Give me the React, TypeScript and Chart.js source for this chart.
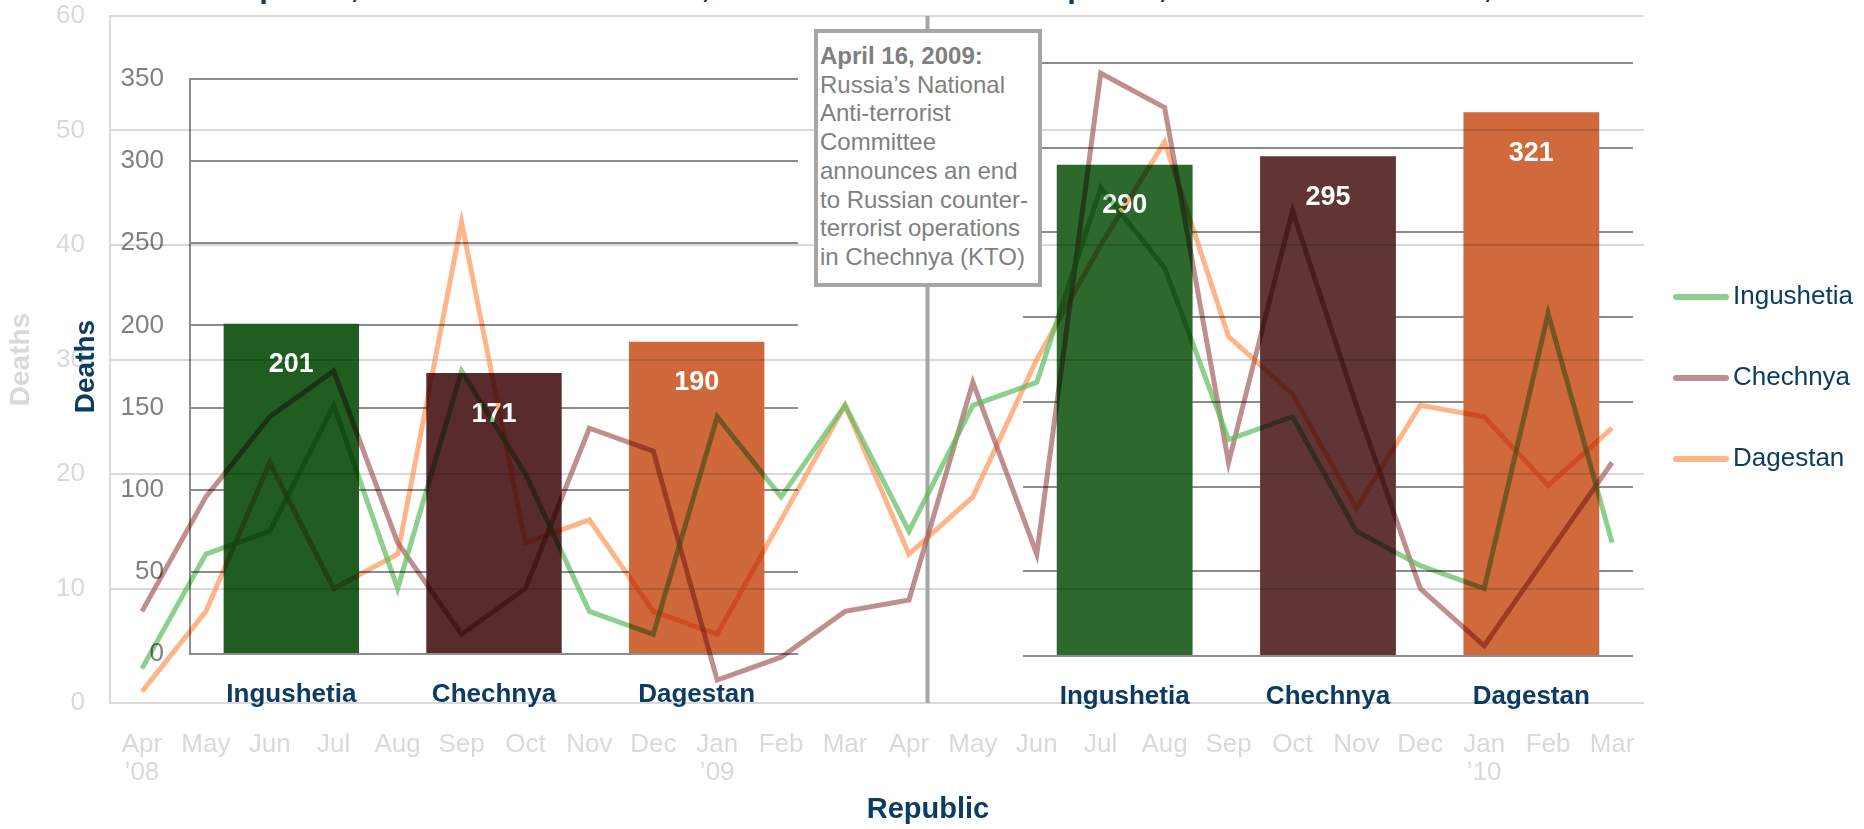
import React, { useEffect, useRef } from "react";
import { Chart, registerables } from "chart.js";

Chart.register(...registerables);

const FONT = '"Liberation Sans", Arial, Helvetica, sans-serif';
const NAVY = "#0c3c61";
const PALE = "#d9d9d9";
const TICK_GREY = "#808080";
const RULE = "#8c8c8c";

// Monthly deaths, April 2008 – March 2010
const months: string[][] = [
  ["Apr", "’08"], ["May"], ["Jun"], ["Jul"], ["Aug"], ["Sep"], ["Oct"], ["Nov"],
  ["Dec"], ["Jan", "’09"], ["Feb"], ["Mar"], ["Apr"], ["May"], ["Jun"], ["Jul"],
  ["Aug"], ["Sep"], ["Oct"], ["Nov"], ["Dec"], ["Jan", "’10"], ["Feb"], ["Mar"],
];
const ingushetiaMonthly = [3, 13, 15, 26, 10, 29, 20, 8, 6, 25, 18, 26, 15, 26, 28, 45, 38, 23, 25, 15, 12, 10, 34, 14];
const chechnyaMonthly = [8, 18, 25, 29, 14, 6, 10, 24, 22, 2, 4, 8, 9, 28, 13, 55, 52, 21, 43, 26, 10, 5, 13, 21];
const dagestanMonthly = [1, 8, 21, 10, 13, 42, 14, 16, 8, 6, 16, 26, 13, 18, 30, 40, 49, 32, 27, 17, 26, 25, 19, 24];

const seriesNames = ["Ingushetia", "Chechnya", "Dagestan"];
const lineColors = ["rgba(92,186,92,0.7)", "rgba(160,88,88,0.68)", "rgba(255,150,88,0.7)"];

// Twelve-month totals before and after the end of the KTO
const republics = ["Ingushetia", "Chechnya", "Dagestan"];
const totalsBefore = [201, 171, 190];
const totalsAfter = [290, 295, 321];
const barColorsBefore = ["#215c21", "#5a2b2d", "#cf693c"];
const barColorsAfter = ["#2d682d", "#613435", "#d06a3d"];

// End of counter-terrorist operations: April 16, 2009
const ktoMonth = 12;
const ktoFraction = 0.29;
const ktoHeading = "April 16, 2009:";
const ktoNote = [
  "Russia’s National",
  "Anti-terrorist",
  "Committee",
  "announces an end",
  "to Russian counter-",
  "terrorist operations",
  "in Chechnya (KTO)",
];

const panelTitles = [
  "Deaths Per Republic, 12 Months Before KTO, 2008–2009",
  "Deaths Per Republic, 12 Months After KTO, 2009–2010",
];

const lineOverlay = {
  id: "lineOverlay",
  beforeDatasetsDraw(chart: any) {
    const { ctx, chartArea, scales } = chart;
    const x = scales.x;
    const step = x.getPixelForValue(1) - x.getPixelForValue(0);
    const px = x.getPixelForValue(ktoMonth) + ktoFraction * step;
    ctx.save();
    ctx.strokeStyle = "#a6a6a6";
    ctx.lineWidth = 4;
    ctx.beginPath();
    ctx.moveTo(px, chartArea.top);
    ctx.lineTo(px, chartArea.bottom);
    ctx.stroke();
    ctx.restore();
  },
  afterDraw(chart: any) {
    const { ctx } = chart;
    ctx.save();
    // legend
    ctx.font = `26px ${FONT}`;
    ctx.textBaseline = "middle";
    ctx.textAlign = "left";
    chart.data.datasets.forEach((ds: any, i: number) => {
      const y = 297 + i * 81;
      ctx.strokeStyle = ds.borderColor;
      ctx.lineWidth = 6;
      ctx.lineCap = "round";
      ctx.beginPath();
      ctx.moveTo(1676, y);
      ctx.lineTo(1726, y);
      ctx.stroke();
      ctx.fillStyle = NAVY;
      ctx.fillText(ds.label, 1733, y);
    });
    // panel titles, sitting above the top edge
    ctx.font = `bold 31px ${FONT}`;
    ctx.textBaseline = "alphabetic";
    ctx.fillStyle = NAVY;
    ctx.fillText(panelTitles[0], 49, -3);
    ctx.fillText(panelTitles[1], 857, -3);
    // shared category title
    ctx.font = `bold 29px ${FONT}`;
    ctx.textAlign = "center";
    ctx.textBaseline = "middle";
    ctx.fillText("Republic", 928, 810);
    ctx.restore();
  },
};

const barOverlay = {
  id: "barOverlay",
  afterDatasetsDraw(chart: any) {
    // rules and axis are drawn after the bars, multiplied into them
    chart.ctx.globalCompositeOperation = "multiply";
  },
  afterDraw(chart: any) {
    const { ctx } = chart;
    ctx.globalCompositeOperation = "source-over";
    const meta = chart.getDatasetMeta(0);
    const values = chart.data.datasets[0].data;
    ctx.save();
    ctx.font = `bold 27px ${FONT}`;
    ctx.fillStyle = "#ffffff";
    ctx.textAlign = "center";
    ctx.textBaseline = "middle";
    meta.data.forEach((el: any, i: number) => {
      ctx.fillText(String(values[i]), el.x, el.y + 41);
    });
    ctx.restore();
  },
};

function lineConfig(): any {
  const data = [ingushetiaMonthly, chechnyaMonthly, dagestanMonthly];
  return {
    type: "line",
    data: {
      labels: months,
      datasets: seriesNames.map((name, i) => ({
        label: name,
        data: data[i],
        borderColor: lineColors[i],
        backgroundColor: lineColors[i],
        borderWidth: 5,
        pointRadius: 0,
        tension: 0,
        fill: false,
      })),
    },
    options: {
      responsive: false,
      animation: false,
      layout: { padding: { top: 16, right: 220, left: 0, bottom: 0 } },
      plugins: { legend: { display: false }, tooltip: { enabled: false }, title: { display: false } },
      scales: {
        x: {
          offset: true,
          grid: { display: false, drawTicks: false },
          border: { display: false },
          ticks: {
            color: PALE,
            font: { family: FONT, size: 26, lineHeight: 1.08 },
            padding: 28,
            maxRotation: 0,
            autoSkip: false,
          },
          afterFit: (s: any) => {
            s.height = 126;
          },
        },
        y: {
          min: 0,
          max: 60,
          ticks: { stepSize: 10, color: PALE, font: { family: FONT, size: 26 }, padding: 25 },
          grid: { color: PALE, lineWidth: 2, drawTicks: false },
          border: { color: PALE, width: 2 },
          title: {
            display: true,
            text: "Deaths",
            color: PALE,
            font: { family: FONT, size: 28, weight: "bold" },
            padding: { top: 4, bottom: 0 },
          },
          afterFit: (s: any) => {
            s.width = 110;
            s.paddingTop = 15;
            s.paddingBottom = 15;
          },
        },
      },
    },
    plugins: [lineOverlay],
  };
}

function barConfig(values: number[], colors: string[], withAxis: boolean): any {
  return {
    type: "bar",
    data: {
      labels: republics,
      datasets: [
        {
          data: values,
          backgroundColor: colors,
          borderWidth: 0,
          barPercentage: 0.668,
          categoryPercentage: 1,
        },
      ],
    },
    options: {
      responsive: false,
      animation: false,
      layout: {
        padding: withAxis
          ? { top: 79, right: 82, left: 0, bottom: 0 }
          : { top: 63, right: 231, left: 0, bottom: 0 },
      },
      plugins: { legend: { display: false }, tooltip: { enabled: false }, title: { display: false } },
      scales: {
        x: {
          grid: { display: false, drawTicks: false },
          border: { display: false },
          ticks: {
            color: NAVY,
            font: { family: FONT, size: 26, weight: "bold" },
            padding: 25,
            maxRotation: 0,
          },
          afterFit: (s: any) => {
            s.height = withAxis ? 829 - 654 : 829 - 656;
          },
        },
        y: {
          z: 1,
          min: 0,
          max: 350,
          ticks: {
            display: withAxis,
            stepSize: 50,
            color: TICK_GREY,
            font: { family: FONT, size: 26 },
            padding: 26,
          },
          grid: { color: RULE, lineWidth: 2, drawTicks: false },
          border: { display: withAxis, color: RULE, width: 2 },
          title: {
            display: withAxis,
            text: "Deaths",
            color: NAVY,
            font: { family: FONT, size: 28, weight: "bold" },
            padding: { top: 69, bottom: 0 },
          },
          afterFit: (s: any) => {
            s.width = withAxis ? 190 : 143;
            s.paddingTop = 15;
            s.paddingBottom = 15;
          },
        },
      },
    },
    plugins: [barOverlay],
  };
}

export default function App() {
  const lineRef = useRef<HTMLCanvasElement>(null);
  const leftRef = useRef<HTMLCanvasElement>(null);
  const rightRef = useRef<HTMLCanvasElement>(null);

  useEffect(() => {
    const charts = [
      new Chart(lineRef.current as HTMLCanvasElement, lineConfig()),
      new Chart(leftRef.current as HTMLCanvasElement, barConfig(totalsBefore, barColorsBefore, true)),
      new Chart(rightRef.current as HTMLCanvasElement, barConfig(totalsAfter, barColorsAfter, false)),
    ];
    return () => charts.forEach((c) => c.destroy());
  }, []);

  return (
    <div
      style={{
        position: "absolute",
        left: 0,
        top: 0,
        width: 1864,
        height: 829,
        overflow: "hidden",
        background: "#ffffff",
      }}
    >
      <canvas
        ref={lineRef}
        width={1864}
        height={829}
        style={{ position: "absolute", left: 0, top: 0, width: 1864, height: 829 }}
      />
      <canvas
        ref={leftRef}
        width={880}
        height={829}
        style={{ position: "absolute", left: 0, top: 0, width: 880, height: 829, mixBlendMode: "multiply" }}
      />
      <canvas
        ref={rightRef}
        width={984}
        height={829}
        style={{ position: "absolute", left: 880, top: 0, width: 984, height: 829, mixBlendMode: "multiply" }}
      />
      <div
        style={{
          position: "absolute",
          left: 814,
          top: 29,
          width: 228,
          height: 258,
          boxSizing: "border-box",
          border: "4px solid #a6a6a6",
          background: "#ffffff",
          padding: "9px 0 0 2px",
          fontFamily: FONT,
          fontSize: 24,
          lineHeight: "28.7px",
          color: "#7f7f7f",
          whiteSpace: "pre",
        }}
      >
        <div style={{ fontWeight: "bold" }}>{ktoHeading}</div>
        {ktoNote.map((line) => (
          <div key={line}>{line}</div>
        ))}
      </div>
    </div>
  );
}
